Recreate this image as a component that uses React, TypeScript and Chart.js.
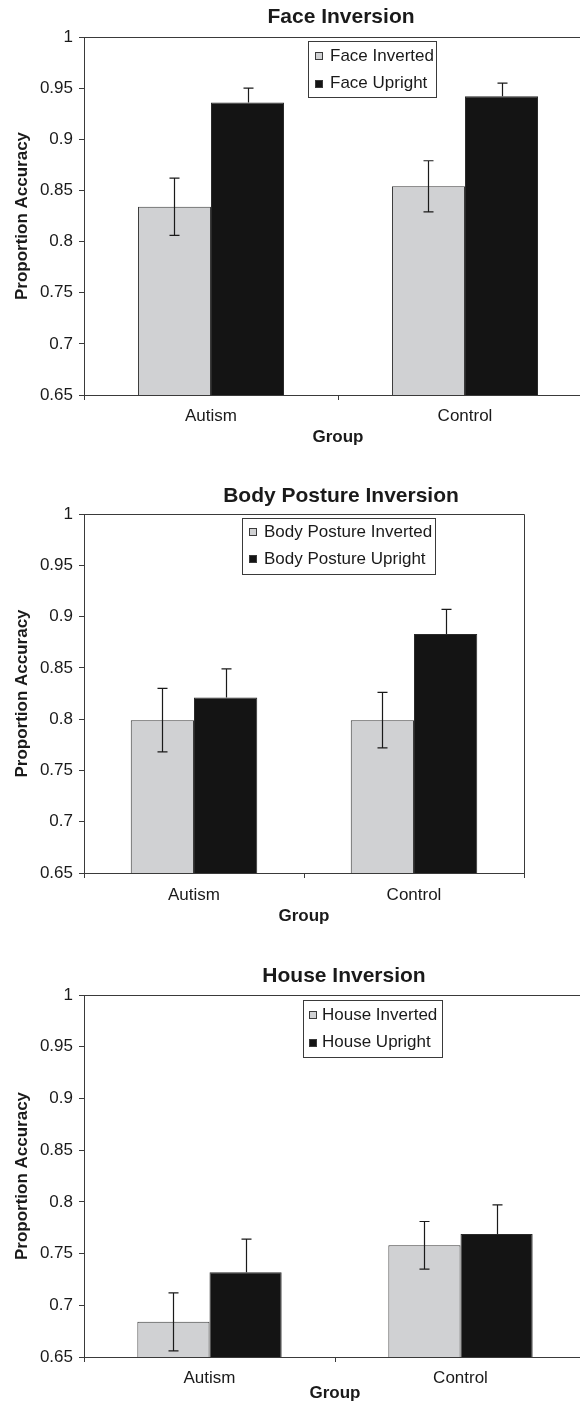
import React, { useEffect, useRef } from 'react';
import { Chart, registerables } from 'chart.js';

Chart.register(...registerables);

// ---------- data ----------
const groups = ['Autism', 'Control'];
const yTickValues = [0.65, 0.7, 0.75, 0.8, 0.85, 0.9, 0.95, 1];

const faceInverted = [0.834, 0.854];
const faceInvertedErr = [0.028, 0.025];
const faceUpright = [0.936, 0.942];
const faceUprightErr = [0.014, 0.013];

const bodyInverted = [0.799, 0.799];
const bodyInvertedErr = [0.031, 0.027];
const bodyUpright = [0.821, 0.883];
const bodyUprightErr = [0.028, 0.024];

const houseInverted = [0.684, 0.758];
const houseInvertedErr = [0.028, 0.023];
const houseUpright = [0.732, 0.769];
const houseUprightErr = [0.032, 0.028];

// ---------- style ----------
const FONT = '"Liberation Sans", Arial, Helvetica, sans-serif';
const LIGHT = '#d0d1d3';
const DARK = '#141414';
const INK = '#1a1a1a';
const AXIS = '#3a3a3a';
const CANVAS_W = 620;

type Panel = {
  title: string;
  names: [string, string];
  inverted: number[];
  invertedErr: number[];
  upright: number[];
  uprightErr: number[];
  canvasTop: number;
  canvasH: number;
  top: number;
  bottom: number;
  right: number;
  titleX: number;
  titleY: number;
  groupPad: number;
  tickPad: number;
  legend: { x1: number; x2: number; y1: number; y2: number; swatchX: number; textX: number; rows: [number, number] };
};

const panels: Panel[] = [
  {
    title: 'Face Inversion',
    names: ['Face Inverted', 'Face Upright'],
    inverted: faceInverted,
    invertedErr: faceInvertedErr,
    upright: faceUpright,
    uprightErr: faceUprightErr,
    canvasTop: 0,
    canvasH: 470,
    top: 37,
    bottom: 395,
    right: 592,
    titleX: 341,
    titleY: 17.5,
    groupPad: 22.8,
    tickPad: 6,
    legend: { x1: 308, x2: 436, y1: 41, y2: 97, swatchX: 315, textX: 330, rows: [56, 83.5] },
  },
  {
    title: 'Body Posture Inversion',
    names: ['Body Posture Inverted', 'Body Posture Upright'],
    inverted: bodyInverted,
    invertedErr: bodyInvertedErr,
    upright: bodyUpright,
    uprightErr: bodyUprightErr,
    canvasTop: 470,
    canvasH: 470,
    top: 44,
    bottom: 403,
    right: 524,
    titleX: 341,
    titleY: 26,
    groupPad: 13.8,
    tickPad: 7,
    legend: { x1: 242, x2: 435, y1: 48, y2: 104, swatchX: 249, textX: 264, rows: [62, 89] },
  },
  {
    title: 'House Inversion',
    names: ['House Inverted', 'House Upright'],
    inverted: houseInverted,
    invertedErr: houseInvertedErr,
    upright: houseUpright,
    uprightErr: houseUprightErr,
    canvasTop: 940,
    canvasH: 467,
    top: 55,
    bottom: 417,
    right: 586,
    titleX: 344,
    titleY: 36,
    groupPad: 3.5,
    tickPad: 6,
    legend: { x1: 303, x2: 442, y1: 60, y2: 117, swatchX: 309, textX: 322, rows: [75, 102.7] },
  },
];

function makeChart(canvas: HTMLCanvasElement, p: Panel) {
  const errors = [p.invertedErr, p.uprightErr];

  const errorBars = {
    id: 'errorBars',
    afterDatasetsDraw(chart: any) {
      const ctx = chart.ctx;
      const y = chart.scales.y;
      ctx.save();
      ctx.strokeStyle = INK;
      ctx.lineWidth = 1.2;
      chart.data.datasets.forEach((ds: any, i: number) => {
        const meta = chart.getDatasetMeta(i);
        meta.data.forEach((bar: any, j: number) => {
          const v = ds.data[j];
          const e = errors[i][j];
          const x = Math.round(bar.x) + 0.5;
          const yHi = y.getPixelForValue(v + e);
          const yLo = y.getPixelForValue(v - e);
          const onDark = i === 1;
          ctx.beginPath();
          ctx.moveTo(x, yHi);
          ctx.lineTo(x, onDark ? bar.y : yLo);
          ctx.moveTo(x - 5, yHi);
          ctx.lineTo(x + 5, yHi);
          if (!onDark) {
            ctx.moveTo(x - 5, yLo);
            ctx.lineTo(x + 5, yLo);
          }
          ctx.stroke();
        });
      });
      ctx.restore();
    },
  };

  const decorations = {
    id: 'decorations',
    afterDraw(chart: any) {
      const ctx = chart.ctx;
      const a = chart.chartArea;
      ctx.save();
      ctx.strokeStyle = AXIS;
      ctx.lineWidth = 1;
      ctx.beginPath();
      ctx.moveTo(a.left, Math.round(a.top) + 0.5);
      ctx.lineTo(Math.round(a.right) + 0.5, Math.round(a.top) + 0.5);
      ctx.lineTo(Math.round(a.right) + 0.5, a.bottom);
      ctx.stroke();
      ctx.beginPath();
      ctx.moveTo(Math.round(a.right) + 0.5, a.bottom);
      ctx.lineTo(Math.round(a.right) + 0.5, a.bottom + 5);
      ctx.stroke();

      ctx.fillStyle = INK;
      ctx.font = `bold 21px ${FONT}`;
      ctx.textAlign = 'center';
      ctx.textBaseline = 'middle';
      ctx.fillText(p.title, p.titleX, p.titleY);

      const L = p.legend;
      ctx.fillStyle = '#ffffff';
      ctx.fillRect(L.x1, L.y1, L.x2 - L.x1, L.y2 - L.y1);
      ctx.strokeStyle = AXIS;
      ctx.strokeRect(L.x1 + 0.5, L.y1 + 0.5, L.x2 - L.x1, L.y2 - L.y1);
      const fills = [LIGHT, DARK];
      ctx.font = `17px ${FONT}`;
      ctx.textAlign = 'left';
      for (let k = 0; k < 2; k++) {
        const cy = L.rows[k];
        const sy = Math.round(cy - 4);
        ctx.fillStyle = fills[k];
        ctx.fillRect(L.swatchX, sy, 8, 8);
        ctx.strokeStyle = AXIS;
        ctx.strokeRect(L.swatchX + 0.5, sy + 0.5, 7, 7);
        ctx.fillStyle = INK;
        ctx.fillText(p.names[k], L.textX, cy);
      }
      ctx.restore();
    },
  };

  return new Chart(canvas, {
    type: 'bar',
    data: {
      labels: groups,
      datasets: [
        {
          label: p.names[0],
          data: p.inverted,
          backgroundColor: LIGHT,
          borderColor: AXIS,
          borderWidth: 1,
          borderSkipped: 'start',
          categoryPercentage: 0.575,
          barPercentage: 1,
        },
        {
          label: p.names[1],
          data: p.upright,
          backgroundColor: DARK,
          borderColor: '#2a2a2a',
          borderWidth: 1,
          borderSkipped: 'start',
          categoryPercentage: 0.575,
          barPercentage: 1,
        },
      ],
    },
    options: {
      responsive: false,
      animation: false,
      devicePixelRatio: 1,
      layout: { padding: { top: p.top, left: 0, right: CANVAS_W - p.right, bottom: 0 } },
      plugins: {
        legend: { display: false },
        title: { display: false },
        tooltip: { enabled: false },
      },
      scales: {
        x: {
          type: 'category',
          offset: true,
          grid: { offset: true, drawOnChartArea: false, drawTicks: true, tickLength: 5, color: AXIS, lineWidth: 1 },
          border: { display: true, color: AXIS, width: 1 },
          ticks: { padding: p.tickPad, color: INK, font: { family: FONT, size: 17 }, maxRotation: 0 },
          title: {
            display: true,
            text: 'Group',
            color: INK,
            font: { family: FONT, size: 17, weight: 'bold' },
            padding: { top: 0, bottom: p.groupPad },
          },
          afterFit: (s: any) => {
            s.height = p.canvasH - p.bottom;
          },
        },
        y: {
          min: 0.65,
          max: 1,
          afterBuildTicks: (s: any) => {
            s.ticks = yTickValues.map((v) => ({ value: v }));
          },
          grid: { drawOnChartArea: false, drawTicks: true, tickLength: 5, color: AXIS, lineWidth: 1 },
          border: { display: true, color: AXIS, width: 1 },
          ticks: {
            padding: 6,
            color: INK,
            font: { family: FONT, size: 17 },
            callback: (v: any) => String(Number(Number(v).toFixed(2))),
          },
          title: {
            display: true,
            text: 'Proportion Accuracy',
            color: INK,
            font: { family: FONT, size: 17, weight: 'bold' },
            padding: { top: 11.8, bottom: 0 },
          },
          afterFit: (s: any) => {
            s.width = 84;
          },
        },
      },
    },
    plugins: [errorBars, decorations],
  } as any);
}

function ChartPanel({ panel }: { panel: Panel }) {
  const ref = useRef<HTMLCanvasElement | null>(null);
  useEffect(() => {
    if (!ref.current) return;
    const chart = makeChart(ref.current, panel);
    return () => chart.destroy();
  }, [panel]);
  return (
    <div style={{ position: 'absolute', left: 0, top: panel.canvasTop, width: CANVAS_W, height: panel.canvasH }}>
      <canvas
        ref={ref}
        width={CANVAS_W}
        height={panel.canvasH}
        style={{ display: 'block', width: CANVAS_W, height: panel.canvasH }}
      />
    </div>
  );
}

export default function App() {
  return (
    <div
      style={{
        position: 'absolute',
        left: 0,
        top: 0,
        width: 580,
        height: 1407,
        overflow: 'hidden',
        background: '#ffffff',
      }}
    >
      {panels.map((p) => (
        <ChartPanel key={p.title} panel={p} />
      ))}
    </div>
  );
}
